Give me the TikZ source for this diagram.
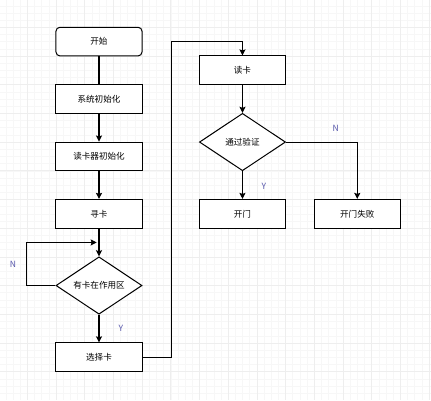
\documentclass[tikz,border=0pt]{standalone}
\usepackage{fontspec}
\setmainfont{Noto Sans CJK SC}
\usepackage{tikz}
\usetikzlibrary{shapes.geometric}
\usetikzlibrary{arrows.meta}
\usepackage{xcolor}
\definecolor{labelblue}{RGB}{85,85,170}

\begin{document}
\begin{tikzpicture}[font=\fontsize{8.5}{10}\selectfont]
        % ================= 样式定义 =================
        \tikzset{
            % 普通处理框
            procbox/.style={draw=black, line width=1pt, fill=white, align=center, rectangle, minimum width=3cm, minimum height=1cm, inner sep=0pt},
            % 开始框 (圆角)
            startbox/.style={procbox, rounded corners=4pt},
            % 判断框
            decision/.style={draw=black, line width=1pt, fill=white, align=center, diamond, aspect=1.5, minimum width=3cm, minimum height=2cm, inner sep=0pt},
            % 普通连线
            line/.style={line width=1pt, black},
            % 带箭头连线
            flow/.style={line width=1pt, black, -{Stealth[length=6pt, width=6pt, inset=1pt]}},
            % Y / N 标注
            yn/.style={text=labelblue, font=\fontsize{8.5}{10}\selectfont}
        }

        % ================= 背景网格 =================
        \useasboundingbox (0.05,-13.99) rectangle (15.07,-0.05);
        \fill[white] (0.05,-13.99) rectangle (15.07,-0.05);
        \draw[gray!6, line width=0.4pt, step=0.25] (0.05,-13.99) grid (15.07,-0.05);
        \draw[gray!13, line width=0.5pt, step=1] (0.05,-13.99) grid (15.07,-0.05);

        % ================= 左侧部分:初始化与寻卡 =================
        \node[startbox] (start) at (3.5, -1.5) {开始};
        \node[procbox] (init_sys) at (3.5, -3.5) {系统初始化};
        \node[procbox] (init_reader) at (3.5, -5.5) {读卡器初始化};
        \node[procbox] (seek) at (3.5, -7.5) {寻卡};
        \node[decision] (has_card) at (3.5, -10) {有卡在作用区};
        \node[procbox] (select) at (3.5, -12.5) {选择卡};

        % ================= 右侧部分:读卡与验证 =================
        \node[procbox] (read) at (8.5, -2.5) {读卡};
        \node[decision] (verify) at (8.5, -5) {通过验证};
        \node[procbox] (open) at (8.5, -7.5) {开门};
        \node[procbox] (fail) at (12.5, -7.5) {开门失败};

        % 折线的转折点
        \coordinate (loop_in) at (3.42, -8.5);
        \coordinate (read_in) at (8.5, -1.5);

        % 连接关系
        \draw[line] (start) -- (init_sys);
        \draw[flow] (init_sys) -- (init_reader);
        \draw[flow] (init_reader) -- (seek);
        \draw[flow] (seek) -- (has_card);
        \draw[flow] (has_card.west) -- ++(-1, 0) |- (loop_in);
        \draw[flow] (has_card) -- (select);
        \draw[flow] (select.east) -- ++(1, 0) |- (read_in) -- (read);
        \draw[flow] (read) -- (verify);
        \draw[flow] (verify) -- (open);
        \draw[flow] (verify.east) -| (fail.north);

        % Y / N 标注
        \node[yn] (n_loop) at (0.5, -9.25) {N};
        \node[yn] (y_select) at (4.26, -11.5) {Y};
        \node[yn] (y_open) at (9.25, -6.53) {Y};
        \node[yn] (n_fail) at (11.75, -4.53) {N};

    \end{tikzpicture}
\end{document}
